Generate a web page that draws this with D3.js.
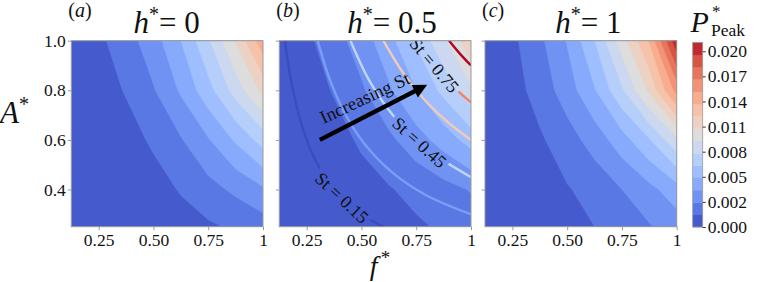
<!DOCTYPE html>
<html><head><meta charset="utf-8">
<script src="https://cdn.jsdelivr.net/npm/d3@7"></script>
<style>
body{margin:0;background:#fff}
svg{display:block}
text{font-family:"Liberation Serif","Times New Roman",serif;fill:#111}
</style>
</head><body>
<svg id="chart" width="764" height="282"></svg>
<script>
// ---------------- data ----------------
const fGrid = [0.125, 0.25, 0.375, 0.5, 0.625, 0.75, 0.875, 1.0];
const aGrid = [0.25, 0.4, 0.6, 0.8, 1.0];
// P*_Peak on the (f*, A*) grid, rows from A*=0.25 (bottom) to A*=1.0 (top)
const pPeakH0 = [
  [0.0002, 0.0003, 0.0004, 0.0006, 0.0009, 0.0012, 0.0016, 0.0021],
  [0.0002, 0.0004, 0.0006, 0.0009, 0.0015, 0.0023, 0.0031, 0.0040],
  [0.0003, 0.0005, 0.0009, 0.0016, 0.0027, 0.0041, 0.0058, 0.0076],
  [0.0003, 0.0008, 0.0015, 0.0027, 0.0044, 0.0065, 0.0090, 0.0116],
  [0.0004, 0.0011, 0.0022, 0.0036, 0.0056, 0.0082, 0.0113, 0.0149]
];
const pPeakH05 = [
  [0.0002, 0.0003, 0.0004, 0.0006, 0.0009, 0.0012, 0.0016, 0.0020],
  [0.0002, 0.0004, 0.0006, 0.0009, 0.0013, 0.0018, 0.0023, 0.0029],
  [0.0003, 0.0005, 0.0009, 0.0016, 0.0025, 0.0036, 0.0048, 0.0062],
  [0.0003, 0.0008, 0.0015, 0.0026, 0.0040, 0.0056, 0.0074, 0.0095],
  [0.0004, 0.0011, 0.0022, 0.0035, 0.0051, 0.0072, 0.0095, 0.0123]
];
const pPeakH1 = [
  [0.0002, 0.0004, 0.0007, 0.0010, 0.0014, 0.0020, 0.0027, 0.0035],
  [0.0002, 0.0005, 0.0008, 0.0013, 0.0019, 0.0028, 0.0038, 0.0050],
  [0.0003, 0.0006, 0.0012, 0.0022, 0.0034, 0.0050, 0.0069, 0.0095],
  [0.0003, 0.0008, 0.0020, 0.0035, 0.0055, 0.0082, 0.0115, 0.0159],
  [0.0004, 0.0011, 0.0025, 0.0043, 0.0070, 0.0105, 0.0141, 0.0207]
];
const levels = [0, 0.0014, 0.0028, 0.0042, 0.0056, 0.0070, 0.0084, 0.0098,
                0.0112, 0.0126, 0.0140, 0.0154, 0.0168, 0.0182, 0.0196, 0.0210];
const cbTicks = [0, 0.002857, 0.005714, 0.008571, 0.011429, 0.014286, 0.017143, 0.020];
const cbTickLabels = ["0.000", "0.002", "0.005", "0.008", "0.011", "0.014", "0.017", "0.020"];
const xTicks = [0.25, 0.5, 0.75, 1];
const xTickLabels = ["0.25", "0.50", "0.75", "1"];
const yTicks = [0.4, 0.6, 0.8, 1.0];
const yTickLabels = ["0.4", "0.6", "0.8", "1.0"];
const hValues = ["0", "0.5", "1"];
const panelTags = ["a", "b", "c"];
// Strouhal iso-lines drawn in panel (b)
const stValues = [0.15, 0.30, 0.45, 0.60, 0.75, 0.90];
const stLineF = [
  [0.15, 0.18, 0.22, 0.27, 0.33, 0.40, 0.50, 0.60],
  [0.30, 0.36, 0.44, 0.54, 0.66, 0.80, 1.00],
  [0.45, 0.54, 0.66, 0.80, 1.00],
  [0.60, 0.70, 0.80, 0.90, 1.00],
  [0.75, 0.83, 0.91, 1.00],
  [0.90, 0.95, 1.00]
];
const stLineA = [
  [1.000, 0.833, 0.682, 0.556, 0.455, 0.375, 0.300, 0.250],
  [1.000, 0.833, 0.682, 0.556, 0.455, 0.375, 0.300],
  [1.000, 0.833, 0.682, 0.5625, 0.450],
  [1.000, 0.857, 0.750, 0.667, 0.600],
  [1.000, 0.904, 0.824, 0.750],
  [1.000, 0.947, 0.900]
];
const stLabelText = ["St = 0.15", "St = 0.45", "St = 0.75"];
const stLabelF = [0.41, 0.764, 0.832];
const stLabelA = [0.366, 0.589, 0.901];
const stLabelAngle = [43, 42, 50];
const arrowFrom = [0.31, 0.60];
const arrowTo = [0.80, 0.822];

// coolwarm colormap (Moreland) anchors
const coolwarm = ["#3b4cc0","#445acc","#4d68d7","#5775e1","#6282ea","#6c8ef1","#779af7","#82a5fb",
  "#8db0fe","#98b9ff","#a3c2ff","#aec9fd","#b8d0f9","#c2d5f4","#ccd9ee","#d5dbe6","#dddddd",
  "#e5d8d1","#ecd3c5","#f1ccb8","#f5c4ac","#f7bb9f","#f7b193","#f7a686","#f49a7b","#f18d6f",
  "#ec7f63","#e57058","#de604d","#d55042","#cb3e38","#c0282f","#b40426"];
const cw = d3.scaleLinear().domain(d3.range(coolwarm.length).map(i => i / (coolwarm.length - 1)))
  .range(coolwarm).interpolate(d3.interpolateRgb).clamp(true);
const vmax = levels[levels.length - 1];
const bandColor = i => cw(((levels[i] + levels[i + 1]) / 2) / vmax);

// ---------------- layout ----------------
const svg = d3.select("#chart");
const yTop = 40.7, yBottom = 226.7, pw = 191.7;
const lefts = [71.3, 279.3, 485.0];
const titleX = [166.7, 392, 588.3];
const datasets = [pPeakH0, pPeakH05, pPeakH1];
const spine = "#9a9a9a";

const n = fGrid.length, m = aGrid.length;
const fIdx = d3.scaleLinear().domain(d3.range(n)).range(fGrid);
const aIdx = d3.scaleLinear().domain(d3.range(m)).range(aGrid);
const y = d3.scaleLinear().domain([0.25, 1.0]).range([yBottom, yTop]);

const defs = svg.append("defs");

function drawSt(g, x) {
  const stColor = d3.scaleLinear().domain([stValues[0], stValues[stValues.length - 1]]).range([0, 1]);
  const mask = defs.append("mask").attr("id", "stmask").attr("maskUnits", "userSpaceOnUse")
    .attr("x", 0).attr("y", 0).attr("width", 764).attr("height", 282);
  mask.append("rect").attr("width", 764).attr("height", 282).attr("fill", "#fff");
  const line = d3.line().x(d => x(d[0])).y(d => y(d[1])).curve(d3.curveCatmullRom.alpha(0.5));
  const lines = g.append("g").attr("mask", "url(#stmask)");
  stValues.forEach((s, i) => {
    const pts = stLineF[i].map((f, j) => [f, stLineA[i][j]]);
    lines.append("path").attr("d", line(pts)).attr("fill", "none")
      .attr("stroke", cw(stColor(s))).attr("stroke-width", 2.4);
  });
  stLabelText.forEach((txt, i) => {
    const cx = x(stLabelF[i]), cy = y(stLabelA[i]);
    const t = g.append("text").attr("transform", `translate(${cx},${cy}) rotate(${stLabelAngle[i]})`)
      .attr("text-anchor", "middle").attr("dy", "0.33em").attr("font-size", 18).text(txt);
    const w = t.node().getComputedTextLength() + 6;
    mask.append("rect").attr("x", -w / 2).attr("y", -8).attr("width", w).attr("height", 16)
      .attr("fill", "#000").attr("transform", `translate(${cx},${cy}) rotate(${stLabelAngle[i]})`);
  });
  const x0 = x(arrowFrom[0]), y0 = y(arrowFrom[1]), x1 = x(arrowTo[0]), y1 = y(arrowTo[1]);
  const L = Math.hypot(x1 - x0, y1 - y0), ux = (x1 - x0) / L, uy = (y1 - y0) / L;
  const hl = 14, hw = 7;
  const bx = x1 - ux * hl, by = y1 - uy * hl;
  g.append("line").attr("x1", x0).attr("y1", y0).attr("x2", bx + ux).attr("y2", by + uy)
    .attr("stroke", "#000").attr("stroke-width", 4.3);
  g.append("path").attr("d", `M${x1},${y1}L${bx - uy * hw},${by + ux * hw}L${bx + uy * hw},${by - ux * hw}Z`)
    .attr("fill", "#000");
  const ang = Math.atan2(y1 - y0, x1 - x0) * 180 / Math.PI + 2;
  g.append("text").attr("transform", `translate(${(x0 + x1) / 2 - 6},${(y0 + y1) / 2 - 9}) rotate(${ang})`)
    .attr("text-anchor", "middle").attr("font-size", 18.5).text("Increasing St");
}

datasets.forEach((data, p) => {
  const x = d3.scaleLinear().domain([0.125, 1.0]).range([lefts[p], lefts[p] + pw]);
  const cid = "clip" + p;
  defs.append("clipPath").attr("id", cid).append("rect")
    .attr("x", lefts[p]).attr("y", yTop).attr("width", pw).attr("height", yBottom - yTop);
  const g = svg.append("g");
  const inner = g.append("g").attr("clip-path", `url(#${cid})`);
  const contours = d3.contours().size([n, m]).thresholds(levels.slice(0, -1))(data.flat());
  const proj = d3.geoTransform({point(px, py) {
    this.stream.point(x(fIdx(px - 0.5)), y(aIdx(py - 0.5)));
  }});
  const path = d3.geoPath(proj);
  inner.selectAll("path.band").data(contours).join("path")
    .attr("class", "band").attr("d", path)
    .attr("fill", (d, i) => bandColor(i)).attr("stroke", (d, i) => bandColor(i)).attr("stroke-width", 0.3);

  if (p === 1) drawSt(inner, x);

  g.append("rect").attr("x", lefts[p]).attr("y", yTop).attr("width", pw).attr("height", yBottom - yTop)
    .attr("fill", "none").attr("stroke", spine).attr("stroke-width", 1);

  const xa = g.append("g").attr("transform", `translate(0,${yBottom})`)
    .call(d3.axisBottom(x).tickValues(xTicks).tickSize(3.5).tickPadding(3)
      .tickFormat((d, i) => xTickLabels[i]));
  xa.select(".domain").remove();
  xa.selectAll("line").attr("stroke", spine);
  xa.selectAll("text").attr("font-size", 17.5).attr("fill", "#111");

  const ya = g.append("g").attr("transform", `translate(${lefts[p]},0)`)
    .call(d3.axisLeft(y).tickValues(yTicks).tickSize(3.5).tickPadding(2)
      .tickFormat((d, i) => p === 0 ? yTickLabels[i] : ""));
  ya.select(".domain").remove();
  ya.selectAll("line").attr("stroke", spine);
  ya.selectAll("text").attr("font-size", 17.5).attr("fill", "#111");

  const t = svg.append("text").attr("x", titleX[p]).attr("y", 33).attr("text-anchor", "middle")
    .attr("font-size", 31);
  t.append("tspan").attr("font-style", "italic").text("h");
  t.append("tspan").attr("font-size", 20).attr("dy", -12).text("*");
  t.append("tspan").attr("dy", 12).text("= " + hValues[p]);

  const tg = svg.append("text").attr("x", lefts[p] - 3).attr("y", 17).attr("font-size", 20);
  tg.append("tspan").text("(");
  tg.append("tspan").attr("font-style", "italic").text(panelTags[p]);
  tg.append("tspan").text(")");
});

// axis labels
const al = svg.append("text").attr("x", 0).attr("y", 123).attr("font-size", 31);
al.append("tspan").attr("font-style", "italic").text("A");
al.append("tspan").attr("font-size", 20).attr("dy", -12).text("*");
const fl = svg.append("text").attr("x", 380).attr("y", 275).attr("text-anchor", "middle").attr("font-size", 28);
fl.append("tspan").attr("font-style", "italic").text("f");
fl.append("tspan").attr("font-size", 19).attr("dy", -11).attr("dx", 3).text("*");

// colorbar
const cbX = 692.7, cbW = 10;
const cb = d3.scaleLinear().domain([0, vmax]).range([227, 42.5]);
const cbg = svg.append("g");
cbg.selectAll("rect.band").data(levels.slice(0, -1)).join("rect").attr("class", "band")
  .attr("x", cbX).attr("width", cbW)
  .attr("y", (d, i) => cb(levels[i + 1])).attr("height", (d, i) => cb(levels[i]) - cb(levels[i + 1]) + 0.3)
  .attr("fill", (d, i) => bandColor(i));
cbg.append("rect").attr("x", cbX).attr("y", cb(vmax)).attr("width", cbW).attr("height", cb(0) - cb(vmax))
  .attr("fill", "none").attr("stroke", spine).attr("stroke-width", 0.8);
const cba = cbg.append("g").attr("transform", `translate(${cbX + cbW},0)`)
  .call(d3.axisRight(cb).tickValues(cbTicks).tickSize(3).tickPadding(2)
    .tickFormat((d, i) => cbTickLabels[i]));
cba.select(".domain").remove();
cba.selectAll("line").attr("stroke", "#333");
cba.selectAll("text").attr("font-size", 17.5).attr("fill", "#111");
const ct = svg.append("text").attr("x", 690.5).attr("y", 31.5).attr("font-size", 30);
ct.append("tspan").attr("font-style", "italic").text("P");
svg.append("text").attr("x", 712).attr("y", 17).attr("font-size", 17).text("*");
svg.append("text").attr("x", 711).attr("y", 36).attr("font-size", 17.5).text("Peak");
</script>
</body></html>
